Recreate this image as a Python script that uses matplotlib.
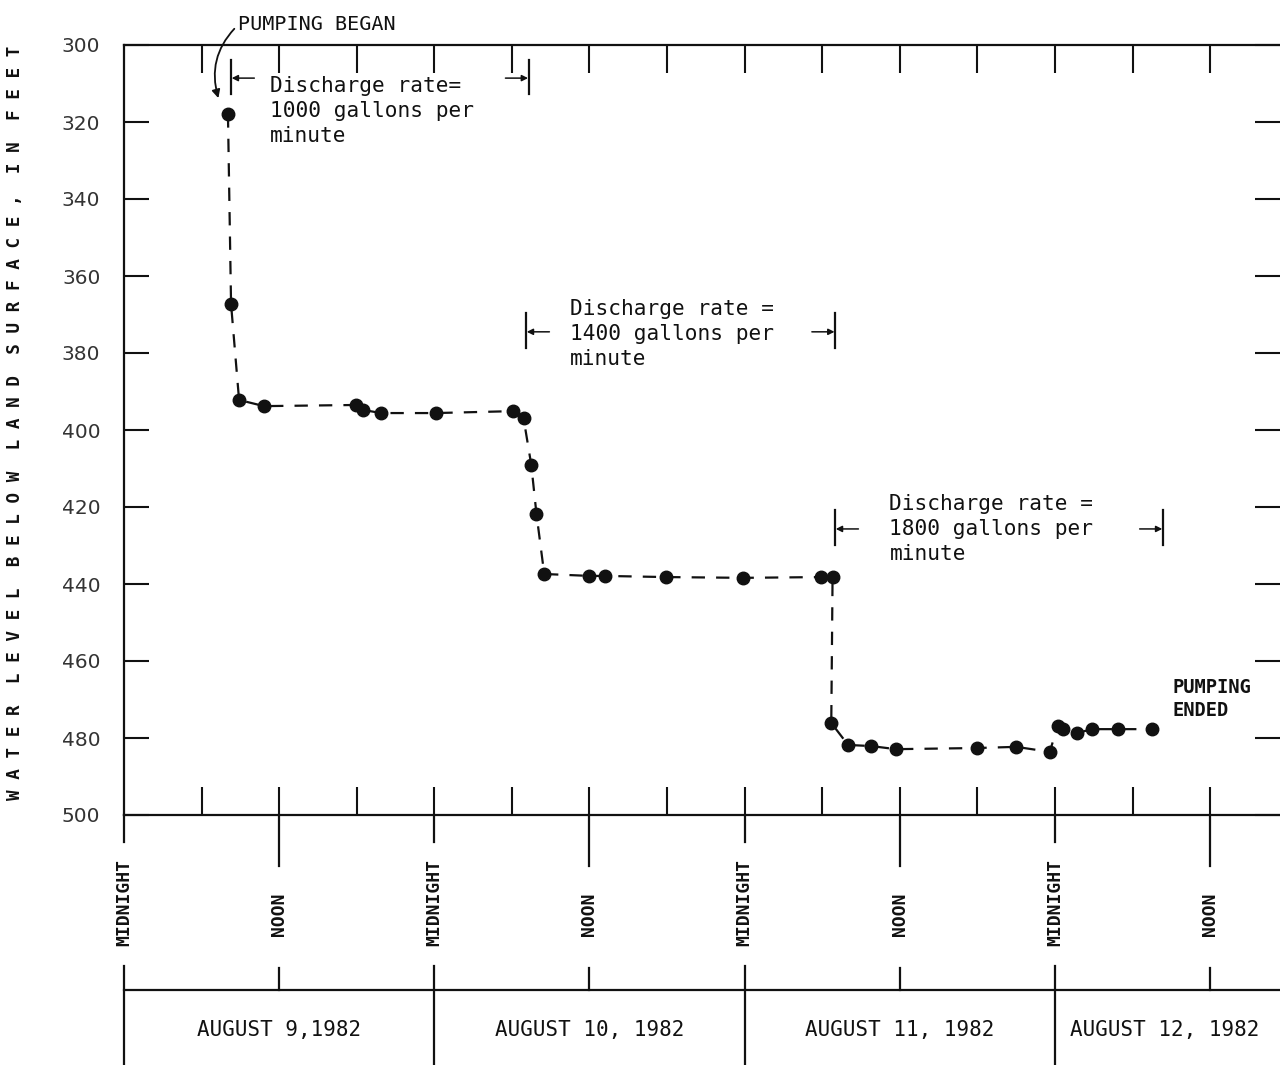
import matplotlib
matplotlib.use("Agg")
import matplotlib.pyplot as plt

# ---- data (hours since midnight Aug 9, 1982; water level in feet below land surface)
hours = [8.04, 8.28, 8.9, 10.83, 17.94, 18.5, 19.9, 24.1, 30.1, 30.9, 31.5, 31.9,
         32.5, 36.0, 37.2, 41.9, 47.9, 53.9, 54.8, 54.7, 56.0, 57.8, 59.7, 66.0,
         69.0, 71.6, 72.2, 72.6, 73.7, 74.9, 76.9, 79.5]
levels = [318.0, 367.3, 392.2, 393.8, 393.5, 394.8, 395.6, 395.6, 395.1, 396.9, 409.1, 421.8,
          437.4, 437.9, 437.9, 438.2, 438.4, 438.2, 438.2, 476.1, 481.8, 482.1, 482.9, 482.6,
          482.3, 483.6, 476.9, 477.7, 478.7, 477.7, 477.7, 477.7]

y_ticks = [300, 320, 340, 360, 380, 400, 420, 440, 460, 480, 500]
six_hour_ticks = [6, 12, 18, 24, 30, 36, 42, 48, 54, 60, 66, 72, 78, 84]
midnights = [0, 24, 48, 72]
noons = [12, 36, 60, 84]
date_labels = ["AUGUST 9,1982", "AUGUST 10, 1982", "AUGUST 11, 1982", "AUGUST 12, 1982"]
date_x = [12, 36, 60, 73.2]

# discharge brackets: (start hour, end hour, arrow level, text x, text y, text)
brackets = [
    (8.28, 31.3, 308.6, 11.3, 317.1, "Discharge rate=\n1000 gallons per\nminute"),
    (31.1, 55.0, 374.5, 34.5, 375.1, "Discharge rate =\n1400 gallons per\nminute"),
    (55.0, 80.35, 425.7, 59.2, 425.7, "Discharge rate =\n1800 gallons per\nminute"),
]

W, H = 1280, 1065
XMAX = (1280 - 124) / 12.93
INK = "#111111"
MONO = "DejaVu Sans Mono"

fig = plt.figure(figsize=(W / 100, H / 100), dpi=100)
ax = fig.add_axes([124 / W, 1 - 815 / H, (W - 124) / W, 770 / H])
ax.set_xlim(0, XMAX)
ax.set_ylim(500, 300)

ax.plot(hours, levels, color=INK, lw=1.6, ls=(0, (6, 5)), marker="o",
        markersize=9, markerfacecolor=INK, markeredgecolor=INK, zorder=3)

for s in ["left", "top", "bottom"]:
    ax.spines[s].set_linewidth(1.6)
    ax.spines[s].set_color(INK)
ax.spines["right"].set_visible(False)

ax.set_yticks(y_ticks)
ax.tick_params(axis="y", which="both", direction="in", length=18, width=1.5,
               left=True, right=True, labelsize=14.5, pad=17, colors=INK)
for lab in ax.get_yticklabels():
    lab.set_fontfamily("DejaVu Sans")
    lab.set_color("#333333")
ax.set_xticks(six_hour_ticks)
ax.tick_params(axis="x", direction="in", length=20, width=1.5, top=True, bottom=True,
               labelbottom=False, colors=INK)

# annotations
ax.annotate("PUMPING BEGAN", xy=(7.3, 313.8), xytext=(8.82, 294.8),
            fontsize=14.5, family=MONO, color=INK, ha="left", va="center",
            annotation_clip=False,
            arrowprops=dict(arrowstyle="-|>", color=INK, lw=1.3, mutation_scale=12,
                            relpos=(0, 0.5), shrinkA=1, shrinkB=0,
                            connectionstyle="arc3,rad=0.3"))

for (h0, h1, ya, tx, ty, txt) in brackets:
    ax.plot([h0, h0], [ya - 4.8, ya + 4.2], color=INK, lw=1.6)
    ax.plot([h1, h1], [ya - 4.8, ya + 4.2], color=INK, lw=1.6)
    ax.annotate("", xy=(h0 + 0.05, ya), xytext=(h0 + 1.8, ya),
                arrowprops=dict(arrowstyle="-|>", color=INK, lw=1.1, mutation_scale=9,
                                shrinkA=0, shrinkB=0))
    ax.annotate("", xy=(h1 - 0.05, ya), xytext=(h1 - 1.8, ya),
                arrowprops=dict(arrowstyle="-|>", color=INK, lw=1.1, mutation_scale=9,
                                shrinkA=0, shrinkB=0))
    ax.text(tx, ty, txt, fontsize=15.2, family=MONO, color=INK, ha="left",
            va="center", linespacing=1.3)

ax.text(81.1, 469.9, "PUMPING\nENDED", fontsize=13.5, family=MONO, weight="bold",
        color=INK, ha="left", va="center", linespacing=1.25)

# y-axis label (letter spaced)
label = "WATER LEVEL BELOW LAND SURFACE, IN FEET"
spaced = "  ".join(" ".join(w) for w in label.split(" "))
fig.text(15 / W, 1 - 423 / H, spaced, rotation=90, fontsize=12.7, family=MONO,
         weight="bold", color=INK, ha="center", va="center")

# ---- time strip below the graph (y in pixel rows)
ax2 = fig.add_axes([124 / W, 0, (W - 124) / W, 250 / H])
ax2.set_xlim(0, XMAX)
ax2.set_ylim(1065, 815)
ax2.axis("off")

for m in midnights:
    ax2.plot([m, m], [815, 842], color=INK, lw=1.6, clip_on=False)
    ax2.plot([m, m], [966, 1065], color=INK, lw=1.6, clip_on=False)
    ax2.text(m, 903, "MIDNIGHT", rotation=90, fontsize=13, family=MONO, weight="bold",
             color=INK, ha="center", va="center")
for n in noons:
    ax2.plot([n, n], [815, 866], color=INK, lw=1.6, clip_on=False)
    ax2.plot([n, n], [968, 990], color=INK, lw=1.6, clip_on=False)
    ax2.text(n, 914, "NOON", rotation=90, fontsize=13, family=MONO, weight="bold",
             color=INK, ha="center", va="center")
ax2.plot([0, XMAX], [990, 990], color=INK, lw=1.6, clip_on=False)

for i, (lab, x) in enumerate(zip(date_labels, date_x)):
    ax2.text(x, 1030, lab, fontsize=15, family=MONO, color=INK,
             ha="left" if i == 3 else "center", va="center")

fig.savefig("out.png", dpi=100)
